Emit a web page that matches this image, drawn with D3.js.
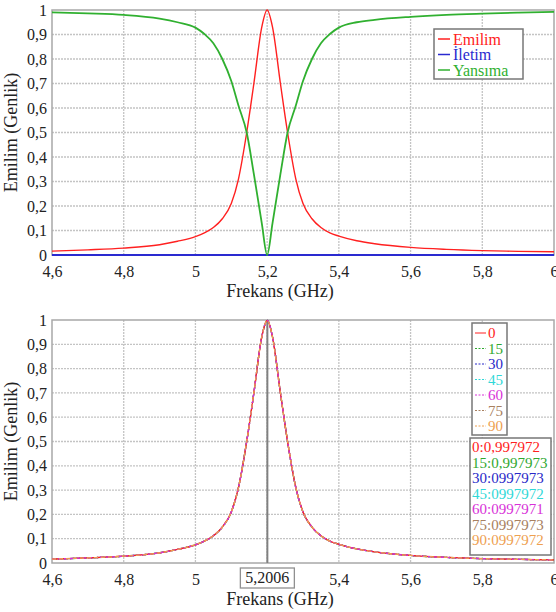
<!DOCTYPE html>
<html>
<head>
    <title>emilim</title>
    <script src="https://d3js.org/d3.v7.min.js"></script>
    <style>
        body { margin: 0; background: #fff; }
    </style>
</head>
<body>
    <svg id="chart" width="556" height="612"></svg>
    <script>

// frekans noktalari (GHz)
var frekans = [4.6, 4.7, 4.8, 4.9, 4.95, 5.0, 5.025, 5.05, 5.075, 5.1, 5.12, 5.143, 5.163, 5.185, 5.2,
               5.215, 5.237, 5.257, 5.28, 5.3, 5.325, 5.35, 5.375, 5.4, 5.45, 5.5, 5.6, 5.7, 5.8, 5.9, 6.0]
var emilim = [0.016, 0.021, 0.028, 0.042, 0.056, 0.075, 0.090, 0.112, 0.148, 0.21, 0.31, 0.50, 0.70, 0.93, 1.0,
              0.93, 0.70, 0.50, 0.31, 0.21, 0.148, 0.112, 0.090, 0.077, 0.058, 0.046, 0.031, 0.023, 0.018, 0.015, 0.013]
var iletim = [0, 0, 0, 0, 0, 0, 0, 0, 0, 0, 0, 0, 0, 0, 0,
              0, 0, 0, 0, 0, 0, 0, 0, 0, 0, 0, 0, 0, 0, 0, 0]
var yansima = [0.990, 0.986, 0.980, 0.965, 0.950, 0.928, 0.902, 0.864, 0.80, 0.71, 0.61, 0.50, 0.33, 0.13, 0.0,
               0.13, 0.33, 0.50, 0.61, 0.71, 0.80, 0.864, 0.902, 0.928, 0.950, 0.960, 0.972, 0.980, 0.985, 0.989, 0.992]

// alt grafik: polarizasyon acilari
var frekansB = [4.6, 4.7, 4.8, 4.9, 4.95, 5.0, 5.025, 5.05, 5.075, 5.1, 5.12, 5.143, 5.163, 5.185, 5.2006,
                5.215, 5.237, 5.257, 5.28, 5.3, 5.325, 5.35, 5.375, 5.4, 5.45, 5.5, 5.6, 5.7, 5.8, 5.9, 6.0]
var emilimB = [0.016, 0.021, 0.028, 0.042, 0.056, 0.075, 0.090, 0.112, 0.148, 0.21, 0.31, 0.50, 0.70, 0.93, 0.998,
               0.93, 0.70, 0.50, 0.31, 0.21, 0.148, 0.112, 0.090, 0.077, 0.058, 0.046, 0.031, 0.023, 0.018, 0.015, 0.013]
var acilar = ["0", "15", "30", "45", "60", "75", "90"]
var aciRenk = ["#ff2020", "#30a830", "#2828c8", "#30d8d8", "#d830d8", "#a88060", "#eea050"]
var aciCizgi = ["none", "4,2", "1.5,1.5", "5,2,1,2", "4,2", "6,3", "4,3"]
var tepeEtiket = ["0:0,997972", "15:0,997973", "30:0997973", "45:0997972",
                  "60:0997971", "75:0997973", "90:0997972"]
var tepeFrekans = 5.2006
var cizimSirasi = [1, 2, 3, 5, 0, 4, 6]

var xTicks = [4.6, 4.8, 5.0, 5.2, 5.4, 5.6, 5.8, 6.0]
var yTicks = [0, 0.1, 0.2, 0.3, 0.4, 0.5, 0.6, 0.7, 0.8, 0.9, 1]

var seriler = [
    { ad: "Emilim", renk: "#ff2020", y: emilim },
    { ad: "\u0130letim", renk: "#2a2ad0", y: iletim },
    { ad: "Yans\u0131ma", renk: "#30b030", y: yansima }
]

var FONT = "'Times New Roman', 'Liberation Serif', 'DejaVu Serif', serif"

var svg = d3.select("#chart").attr("font-family", FONT)
svg.append("rect").attr("width", 556).attr("height", 612).attr("fill", "#fff")

function fmt(d) { return String(+d.toFixed(1)).replace(".", ",") }

var x = d3.scaleLinear().domain([4.6, 6]).range([52, 554])

function panel(top, bottom, skipX) {
    var y = d3.scaleLinear().domain([0, 1]).range([bottom, top])
    var g = svg.append("g")

    // grid
    g.selectAll(".vg").data(xTicks.slice(1, -1)).enter().append("line")
        .attr("x1", x).attr("x2", x).attr("y1", top).attr("y2", bottom)
        .attr("stroke", "#c4c4c4").attr("stroke-width", 1.3).attr("stroke-dasharray", "2,1")
    g.selectAll(".hg").data(yTicks.slice(1, -1)).enter().append("line")
        .attr("x1", 52).attr("x2", 554).attr("y1", y).attr("y2", y)
        .attr("stroke", "#c4c4c4").attr("stroke-width", 1.3).attr("stroke-dasharray", "2,1")
    g.append("rect").attr("x", 52).attr("y", top).attr("width", 502).attr("height", bottom - top)
        .attr("fill", "none").attr("stroke", "#a8a8a8").attr("stroke-width", 1.5)

    // axes (labels only)
    var ax = g.append("g").attr("transform", "translate(0," + bottom + ")")
        .call(d3.axisBottom(x).tickValues(xTicks.filter(function (t) { return skipX.indexOf(t) < 0 }))
            .tickFormat(fmt).tickSize(0).tickPadding(11))
    ax.attr("font-family", FONT)
    ax.select(".domain").remove()
    ax.selectAll("text").attr("font-size", 16).attr("fill", "#222")

    var ay = g.append("g").attr("transform", "translate(47,0)")
        .call(d3.axisLeft(y).tickValues(yTicks).tickFormat(fmt).tickSize(0).tickPadding(0))
    ay.attr("font-family", FONT)
    ay.select(".domain").remove()
    ay.selectAll("text").attr("font-size", 16).attr("fill", "#222")

    g.append("text").attr("x", 280).attr("y", bottom + 42).attr("text-anchor", "middle")
        .attr("font-size", 18).attr("fill", "#222").text("Frekans (GHz)")
    g.append("text").attr("transform", "translate(17," + ((top + bottom) / 2) + ") rotate(-90)")
        .attr("text-anchor", "middle").attr("font-size", 18).attr("fill", "#222")
        .text("Emilim (Genlik)")
    return y
}

// ---- ust grafik
var y1 = panel(10, 255, [])
seriler.forEach(function (s) {
    var line = d3.line().x(function (d, i) { return x(frekans[i]) })
        .y(function (d) { return y1(d) }).curve(d3.curveMonotoneX)
    svg.append("path").datum(s.y).attr("d", line).attr("fill", "none")
        .attr("stroke", s.renk).attr("stroke-width", s.ad == "Emilim" ? 1.4 : 1.8)
})

var lg = svg.append("g").attr("transform", "translate(434,29)")
lg.append("rect").attr("width", 89).attr("height", 50).attr("fill", "#fff")
    .attr("stroke", "#777").attr("stroke-width", 1.5)
seriler.forEach(function (s, i) {
    var yy = 10 + i * 15.5
    lg.append("line").attr("x1", 4).attr("x2", 16).attr("y1", yy).attr("y2", yy)
        .attr("stroke", s.renk).attr("stroke-width", 1.5)
    lg.append("text").attr("x", 19).attr("y", yy).attr("dy", "0.35em")
        .attr("font-size", 16).attr("fill", s.renk).text(s.ad)
})

// ---- alt grafik
var y2 = panel(320, 563, [5.2])
svg.append("line").attr("x1", x(tepeFrekans)).attr("x2", x(tepeFrekans))
    .attr("y1", 320).attr("y2", 563).attr("stroke", "#808080").attr("stroke-width", 2)

cizimSirasi.forEach(function (i) {
    var line = d3.line().x(function (d, j) { return x(frekansB[j]) })
        .y(function (d) { return y2(d) }).curve(d3.curveMonotoneX)
    svg.append("path").datum(emilimB).attr("d", line).attr("fill", "none")
        .attr("stroke", aciRenk[i]).attr("stroke-width", 1.3)
        .attr("stroke-dasharray", aciCizgi[i] == "none" ? null : aciCizgi[i])
})

// tepe frekansi etiketi
var tb = svg.append("g")
tb.append("rect").attr("x", x(tepeFrekans) - 27).attr("y", 568).attr("width", 54).attr("height", 20)
    .attr("fill", "#fff").attr("stroke", "#909090").attr("stroke-width", 1.3)
tb.append("text").attr("x", x(tepeFrekans)).attr("y", 583).attr("text-anchor", "middle")
    .attr("font-size", 16).attr("fill", "#222").text("5,2006")

var la = svg.append("g").attr("transform", "translate(472,323)")
la.append("rect").attr("width", 35).attr("height", 112).attr("fill", "#fff")
    .attr("stroke", "#777").attr("stroke-width", 1.5)
acilar.forEach(function (a, i) {
    var yy = 10 + i * 15.5
    la.append("line").attr("x1", 3).attr("x2", 14).attr("y1", yy).attr("y2", yy)
        .attr("stroke", aciRenk[i]).attr("stroke-width", 1)
        .attr("stroke-dasharray", aciCizgi[i] == "none" ? null : "2,1.5")
    la.append("text").attr("x", 16).attr("y", yy).attr("dy", "0.35em")
        .attr("font-size", 15).attr("fill", aciRenk[i]).text(a)
})

var lt = svg.append("g").attr("transform", "translate(470,438)")
lt.append("rect").attr("width", 81).attr("height", 117).attr("fill", "#fff")
    .attr("stroke", "#777").attr("stroke-width", 1.5)
tepeEtiket.forEach(function (t, i) {
    lt.append("text").attr("x", 2).attr("y", 9 + i * 15.5).attr("dy", "0.35em")
        .attr("font-size", 15).attr("fill", aciRenk[i]).text(t)
})

// kesilmis sekil altyazisi
svg.append("text").attr("x", 166).attr("y", 626).attr("font-size", 17).attr("fill", "#222").text("\u00dc")

    </script>
</body>
</html>
